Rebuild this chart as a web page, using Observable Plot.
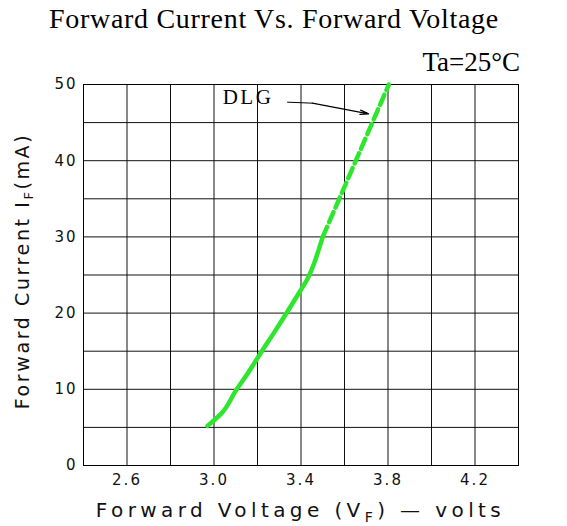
<!DOCTYPE html>
<html><head><meta charset="utf-8">
<script src="https://cdn.jsdelivr.net/npm/d3@7"></script>
<script src="https://cdn.jsdelivr.net/npm/@observablehq/plot@0.6"></script>
<style>body{margin:0;background:#fff}svg{display:block}</style>
</head><body><div id="chart"></div>
<script>
const titleText = "Forward Current Vs. Forward Voltage";
const conditionText = "Ta=25°C";
const seriesName = "DLG";
const xLabelParts = ["Forward Voltage (V", "F", ") \u2014 volts"];
const yLabelParts = ["Forward Current I", "F", "(mA)"];

const xTicks = [2.6, 3.0, 3.4, 3.8, 4.2];
const yTicks = [0, 10, 20, 30, 40, 50];
const gridV = [2.4, 2.6, 2.8, 3.0, 3.2, 3.4, 3.6, 3.8, 4.0, 4.2, 4.4];
const gridI = [0, 5, 10, 15, 20, 25, 30, 35, 40, 45, 50];

// measured (solid) part of the curve
const measuredV = [2.97, 3.03, 3.10, 3.16, 3.22, 3.28, 3.34, 3.39, 3.43, 3.46, 3.48, 3.50];
const measuredI = [5.2, 6.7, 9.8, 12.3, 15.0, 17.6, 20.3, 22.6, 24.5, 26.5, 28.2, 30.0];
// extrapolated (dashed) part
const projectedV = [3.50, 3.576, 3.652, 3.728, 3.804];
const projectedI = [30.0, 35.0, 40.0, 45.0, 50.0];

// annotation anchor (data coordinates)
const labelV = [3.04];
const labelI = [47.4];
const leaderV = [3.338, 3.452, 3.711];
const leaderI = [47.68, 47.55, 46.15];

const green = "#2ee62e";
const measured = measuredV.map((v, k) => ({v, i: measuredI[k]}));
const projected = projectedV.map((v, k) => ({v, i: projectedI[k]}));
const leader = leaderV.map((v, k) => ({v, i: leaderI[k]}));

const chart = Plot.plot({
  width: 567, height: 526,
  marginLeft: 83, marginRight: 49, marginTop: 84, marginBottom: 61,
  style: {fontFamily: "DejaVu Sans", color: "#111", background: "#fff"},
  x: {domain: [2.4, 4.4]},
  y: {domain: [0, 50]},
  marks: [
    Plot.ruleX(gridV, {stroke: "#111", strokeWidth: 1}),
    Plot.ruleY(gridI, {stroke: "#111", strokeWidth: 1}),
    Plot.frame({stroke: "#000"}),
    Plot.line(measured, {x: "v", y: "i", stroke: green, strokeWidth: 4.5, curve: "monotone-y"}),
    Plot.line(projected, {x: "v", y: "i", stroke: green, strokeWidth: 4.5, strokeDasharray: "11,5", curve: "monotone-y"}),
    Plot.line(leader.slice(0, 2), {x: "v", y: "i", stroke: "#000", strokeWidth: 1}),
    Plot.arrow([leader], {x1: d => d[1].v, y1: d => d[1].i, x2: d => d[2].v, y2: d => d[2].i,
      stroke: "#000", strokeWidth: 1.2, headLength: 11, headAngle: 28}),
    Plot.text(labelV, {x: d => d, y: (d, k) => labelI[k], text: () => seriesName,
      textAnchor: "start", lineAnchor: "bottom", fontSize: 21, fill: "#000",
      fontFamily: "Liberation Serif", className: "dlg"}),
    Plot.axisX(xTicks, {tickSize: 0, tickPadding: 9, fontSize: 15, label: null,
      tickFormat: d => d.toFixed(1), className: "xax"}),
    Plot.axisY(yTicks, {tickSize: 0, tickPadding: 6, fontSize: 15, label: null, className: "yax"})
  ]
});

const svg = d3.select(chart);
svg.selectAll(".xax text, .yax text").attr("letter-spacing", "2px");
svg.selectAll(".dlg text").attr("letter-spacing", "2.5px");

svg.append("text")
  .attr("x", 49).attr("y", 28).attr("text-anchor", "start")
  .attr("font-family", "Liberation Serif").attr("font-size", 28)
  .attr("letter-spacing", "0.7px").attr("fill", "#000")
  .text(titleText);

svg.append("text")
  .attr("x", 520).attr("y", 71).attr("text-anchor", "end")
  .attr("font-family", "Liberation Serif").attr("font-size", 27)
  .attr("fill", "#000")
  .text(conditionText);

const xl = svg.append("text")
  .attr("x", 300.5).attr("y", 517).attr("text-anchor", "middle")
  .attr("font-family", "DejaVu Sans").attr("font-size", 20)
  .attr("letter-spacing", "4.4px").attr("fill", "#111");
xl.append("tspan").text(xLabelParts[0]);
xl.append("tspan").attr("font-size", 14).attr("dy", 5).text(xLabelParts[1]);
xl.append("tspan").attr("dy", -5).text(xLabelParts[2]);

const yl = svg.append("text")
  .attr("transform", "translate(29,271) rotate(-90)").attr("text-anchor", "middle")
  .attr("font-family", "DejaVu Sans").attr("font-size", 19)
  .attr("letter-spacing", "2.6px").attr("fill", "#111");
yl.append("tspan").text(yLabelParts[0]);
yl.append("tspan").attr("font-size", 13).attr("dy", 4).text(yLabelParts[1]);
yl.append("tspan").attr("dy", -4).text(yLabelParts[2]);

document.getElementById("chart").appendChild(chart);
</script>
</body></html>
